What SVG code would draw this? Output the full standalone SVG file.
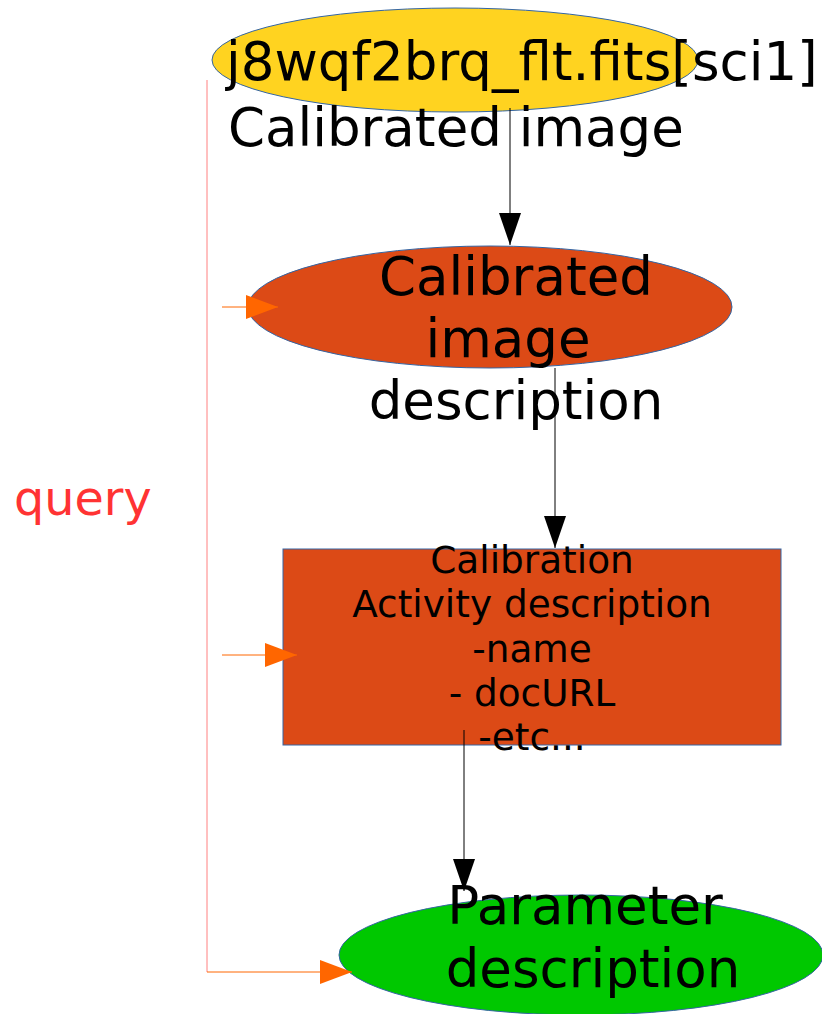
<svg xmlns="http://www.w3.org/2000/svg" width="822" height="1014" viewBox="0 0 822 1014">
<style>
.t{font-family:"DejaVu Sans","Liberation Sans",sans-serif;fill:#000}
.big{font-size:53px}
.mid{font-size:37.4px}
.shape{stroke:#3465a4;stroke-width:1}
.blk{stroke:#000;stroke-width:1;fill:none}
.org{stroke:#ff6600;stroke-width:1;fill:none}
</style>
<defs>
<marker id="ab" markerUnits="userSpaceOnUse" markerWidth="32" markerHeight="22" refX="32" refY="11" orient="auto">
<path d="M0,0 L32,11 L0,22 z" fill="#000"/>
</marker>
<marker id="ao" markerUnits="userSpaceOnUse" markerWidth="32" markerHeight="24" refX="32" refY="12" orient="auto">
<path d="M0,0 L32,12 L0,24 z" fill="#ff6600"/>
</marker>
</defs>
<rect width="822" height="1014" fill="#fff"/>
<g id="node-fits">
<ellipse class="shape" cx="455" cy="60" rx="243" ry="52" fill="#ffd320"/>
<text class="t big" x="226" y="80">j8wqf2brq_flt.fits[sci1]</text>
<text class="t big" x="228" y="146">Calibrated image</text>
</g>
<g id="node-calimg">
<ellipse class="shape" cx="490" cy="307" rx="242" ry="61" fill="#dc4a16"/>
<text class="t big" text-anchor="middle" x="516" y="295">Calibrated</text>
<text class="t big" text-anchor="middle" x="508" y="357">image</text>
<text class="t big" text-anchor="middle" x="516" y="419">description</text>
</g>
<g id="node-activity">
<rect class="shape" x="283" y="549" width="498" height="196" fill="#dc4a16"/>
<text class="t mid" text-anchor="middle" x="532" y="573">Calibration</text>
<text class="t mid" text-anchor="middle" x="532" y="617">Activity description</text>
<text class="t mid" text-anchor="middle" x="532" y="662">-name</text>
<text class="t mid" text-anchor="middle" x="532" y="706">- docURL</text>
<text class="t mid" text-anchor="middle" x="532" y="750">-etc...</text>
</g>
<g id="node-param">
<ellipse class="shape" cx="581" cy="955" rx="242" ry="60" fill="#00c800"/>
<text class="t big" text-anchor="middle" x="585" y="924">Parameter</text>
<text class="t big" text-anchor="middle" x="593" y="987">description</text>
</g>
<g id="label-query">
<text x="14" y="515" font-family="DejaVu Sans, sans-serif" font-size="47.7" fill="#ff3333">query</text>
</g>
<g id="connectors">
<line class="blk" x1="510" y1="108" x2="510" y2="245" marker-end="url(#ab)"/>
<line class="blk" x1="555" y1="368" x2="555" y2="548" marker-end="url(#ab)"/>
<line class="blk" x1="464" y1="730" x2="464" y2="891" marker-end="url(#ab)"/>
<polyline points="207,80 207,972" fill="none" stroke="#ff8080" stroke-width="1"/>
<line class="org" x1="207" y1="972" x2="352" y2="972" marker-end="url(#ao)"/>
<line class="org" x1="222" y1="307" x2="278" y2="307" marker-end="url(#ao)"/>
<line class="org" x1="222" y1="655" x2="297" y2="655" marker-end="url(#ao)"/>
</g>
</svg>
